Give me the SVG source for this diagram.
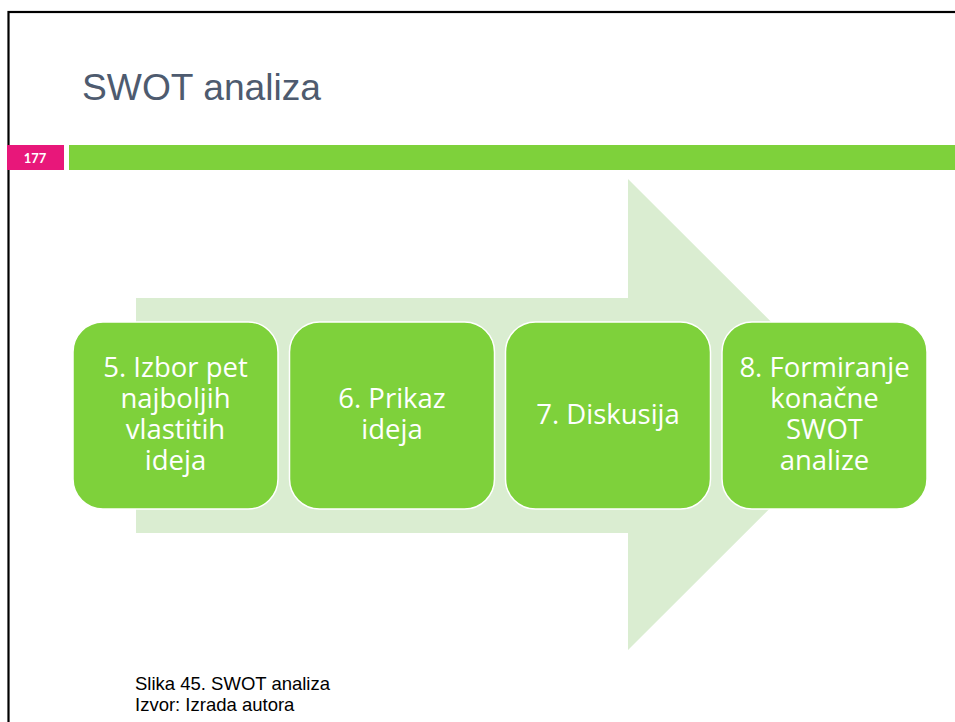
<svg xmlns="http://www.w3.org/2000/svg" width="955" height="722" viewBox="0 0 955 722">
<style>
.box{fill:#7ED13B;stroke:#ffffff;stroke-width:1.5}
.bt{font-family:"Open Sans",Lato,"Liberation Sans",sans-serif;font-size:27.5px;fill:#ffffff;text-anchor:middle;font-variant-ligatures:none}
.cap{font-family:"Liberation Sans",Arial,sans-serif;font-size:18.5px;fill:#000000}
</style>
<rect x="0" y="0" width="955" height="722" fill="#ffffff"/>
<rect x="8.5" y="12" width="960" height="720" fill="none" stroke="#000000" stroke-width="2.2"/>
<text x="82" y="100" font-family="'Liberation Sans',Arial,sans-serif" font-size="37.2" fill="#4E5B6F">SWOT analiza</text>
<rect x="7" y="145" width="57" height="25" fill="#E8177A"/>
<text x="35" y="162.5" font-family="Lato,'Liberation Sans',sans-serif" font-size="13" font-weight="bold" fill="#ffffff" text-anchor="middle">177</text>
<rect x="69" y="145" width="886" height="25" fill="#7ED13B"/>
<g id="background-arrow">
<polygon points="136,298 628,298 628,179 864,414.5 628,650 628,533 136,533" fill="#DAEDD1"/>
</g>
<g id="connectors"/>
<g id="node5">
<rect class="box" x="73" y="322" width="205" height="187" rx="30" ry="30"/>
<text class="bt" x="175.5" y="377">5. Izbor pet</text>
<text class="bt" x="175.5" y="408">najboljih</text>
<text class="bt" x="175.5" y="439">vlastitih</text>
<text class="bt" x="175.5" y="470">ideja</text>
</g>
<g id="node6">
<rect class="box" x="289.5" y="322" width="205" height="187" rx="30" ry="30"/>
<text class="bt" x="392" y="408">6. Prikaz</text>
<text class="bt" x="392" y="439">ideja</text>
</g>
<g id="node7">
<rect class="box" x="505.5" y="322" width="205" height="187" rx="30" ry="30"/>
<text class="bt" x="608" y="424">7. Diskusija</text>
</g>
<g id="node8">
<rect class="box" x="722" y="322" width="205" height="187" rx="30" ry="30"/>
<text class="bt" x="824.5" y="377">8. Formiranje</text>
<text class="bt" x="824.5" y="408">konačne</text>
<text class="bt" x="824.5" y="439">SWOT</text>
<text class="bt" x="824.5" y="470">analize</text>
</g>
<text class="cap" x="135" y="690">Slika 45. SWOT analiza</text>
<text class="cap" x="135" y="711">Izvor: Izrada autora</text>
</svg>
